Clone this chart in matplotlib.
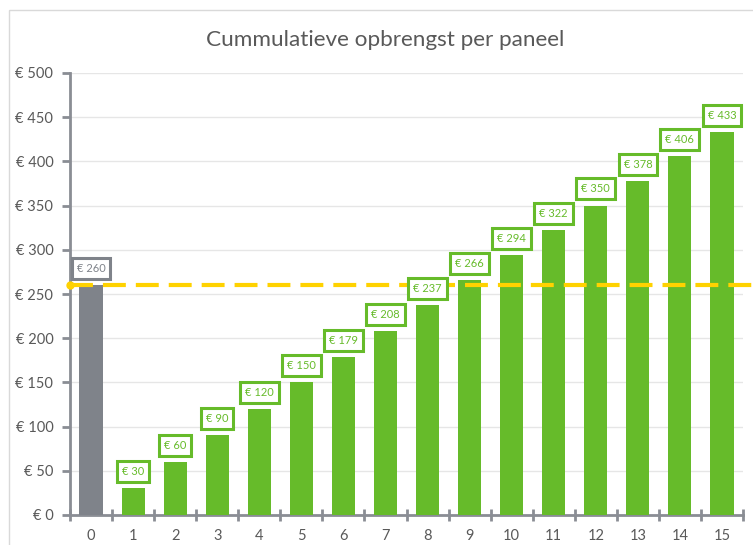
import matplotlib.pyplot as plt
from matplotlib.patches import Rectangle

plt.rcParams['font.family'] = ['Lato', 'DejaVu Sans']

years = list(range(16))
values = [260, 30, 60, 90, 120, 150, 179, 208, 237, 266, 294, 322, 350, 378, 406, 433]
investment = 260
y_ticks = list(range(0, 501, 50))

green = '#66bb2a'
grey_bar = '#7f838a'
axis_grey = '#8a8d94'
text_grey = '#595959'


def main():
    fig = plt.figure(figsize=(7.53, 5.45), dpi=100)
    ax = fig.add_axes([70 / 753, 30 / 545, 673 / 753, 442 / 545])

    # chart frame
    fig.patches.append(Rectangle((9 / 753, 1 - 10 / 545), 1, -1, transform=fig.transFigure,
                                 fill=False, edgecolor='#d9d9d9', linewidth=1, clip_on=False))

    colors = [grey_bar] + [green] * (len(values) - 1)
    ax.bar(years, values, width=0.55, color=colors, zorder=3)

    for x, v, c in zip(years, values, colors):
        ax.annotate('€ {}'.format(v), (x, v), xytext=(0, 12), textcoords='offset points',
                    ha='center', va='center', fontsize=8, color=c, zorder=5,
                    bbox=dict(boxstyle='square,pad=0.45', fc='white', ec=c, lw=2.2))

    ax.plot([-0.5, 15.75], [investment, investment], color='#ffd200', lw=3,
            dashes=(5.5, 2.4), marker='o', markersize=5, markevery=[0],
            clip_on=False, zorder=4)

    ax.set_xlim(-0.5, 15.5)
    ax.set_ylim(0, 500)
    ax.set_yticks(y_ticks)
    ax.set_yticklabels(['€ {}'.format(t) for t in y_ticks])
    ax.set_xticks(years)
    ax.set_xticks([x - 0.5 for x in years] + [15.5], minor=True)
    ax.grid(axis='y', color='#e6e6e6', lw=1, zorder=0)

    for side in ('top', 'right'):
        ax.spines[side].set_visible(False)
    for side in ('left', 'bottom'):
        ax.spines[side].set_color(axis_grey)
        ax.spines[side].set_linewidth(2)

    ax.tick_params(axis='y', colors=axis_grey, labelcolor=text_grey, labelsize=10.5,
                   length=6, width=2, direction='out', pad=6)
    ax.tick_params(axis='x', which='major', length=0, labelcolor=text_grey,
                   labelsize=10.5, pad=10)
    ax.tick_params(axis='x', which='minor', colors=axis_grey, length=8, width=2,
                   direction='inout')

    fig.text(385 / 753, 1 - 40 / 545, 'Cummulatieve opbrengst per paneel',
             ha='center', va='center', fontsize=16.2, color=text_grey)

    fig.savefig('out.png', dpi=100)


if __name__ == '__main__':
    main()
